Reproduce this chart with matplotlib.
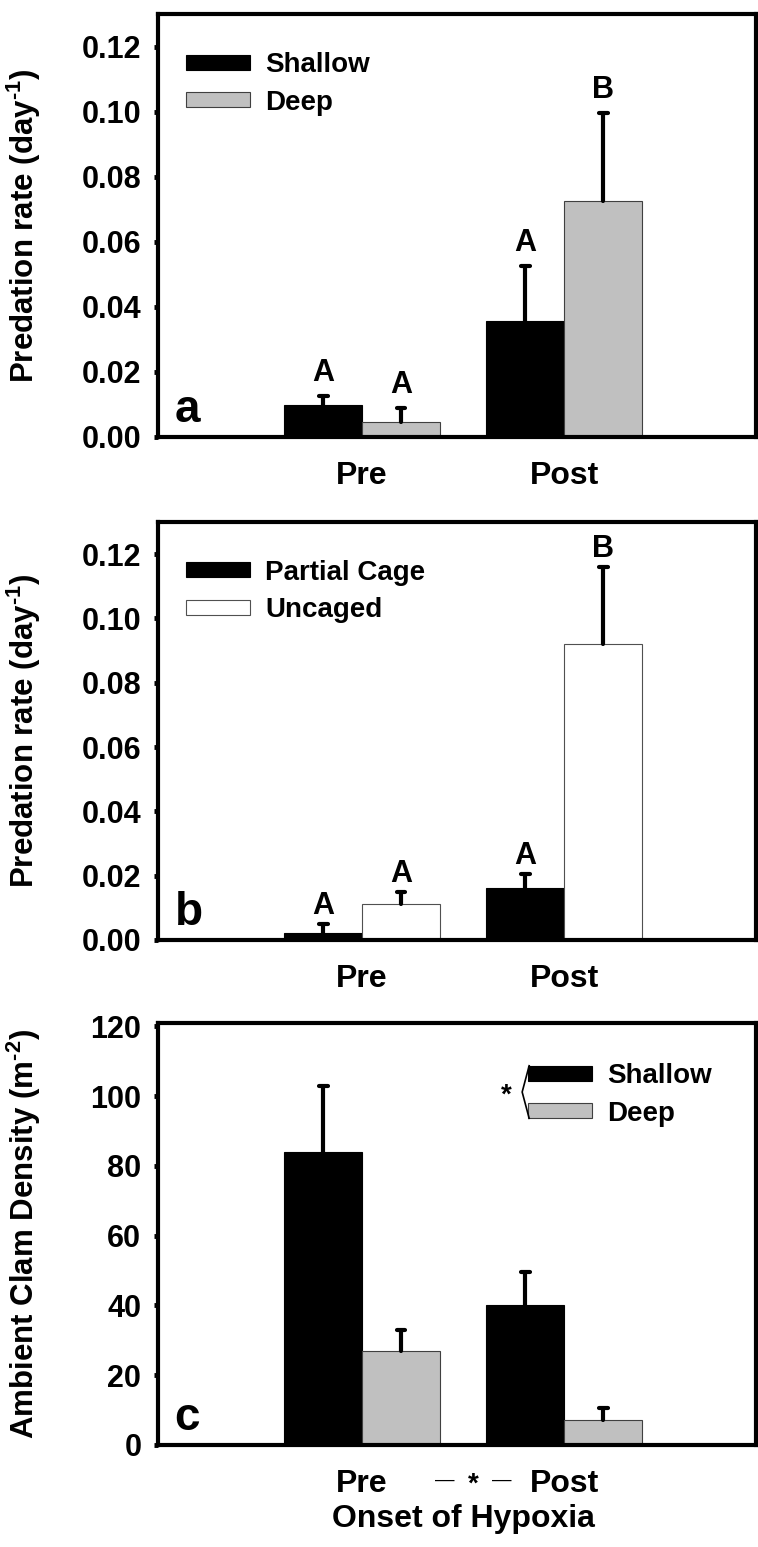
import numpy as np
import matplotlib
matplotlib.use("Agg")
import matplotlib.pyplot as plt
from matplotlib.patches import Patch
from matplotlib.lines import Line2D
from matplotlib.ticker import FormatStrFormatter

periods = ["Pre", "Post"]

# (a) predation rate, shallow vs deep
a_shallow = [0.0098, 0.0356]
a_shallow_se = [0.0028, 0.0169]
a_deep = [0.0046, 0.0724]
a_deep_se = [0.0043, 0.0271]
a_let_shallow = ["A", "A"]
a_let_deep = ["A", "B"]

# (b) predation rate, partial cage vs uncaged
b_partial = [0.0022, 0.0162]
b_partial_se = [0.0028, 0.0043]
b_uncaged = [0.0112, 0.0920]
b_uncaged_se = [0.0038, 0.0240]
b_let_partial = ["A", "A"]
b_let_uncaged = ["A", "B"]

# (c) ambient clam density
c_shallow = [84.0, 40.0]
c_shallow_se = [19.0, 9.5]
c_deep = [27.0, 7.3]
c_deep_se = [6.0, 3.2]

GREY = "#c0c0c0"
W = 0.386
CAP = 0.022
HY = "\u2010"  # plain hyphen for the superscript sign

plt.rcParams.update({
    "font.family": ["Liberation Sans", "DejaVu Sans"],
    "font.weight": "bold",
    "axes.labelweight": "bold",
    "mathtext.fontset": "custom",
    "mathtext.rm": "Liberation Sans:bold",
    "mathtext.default": "rm",
})

fig = plt.figure(figsize=(7.58, 15.47), dpi=100)
L, WID = 158 / 758, 598 / 758
axa = fig.add_axes([L, 1 - 437 / 1547, WID, 423 / 1547])
axb = fig.add_axes([L, 1 - 940 / 1547, WID, 418 / 1547])
axc = fig.add_axes([L, 1 - 1445 / 1547, WID, 422 / 1547])


def draw(ax, m1, e1, m2, e2, col2, ec2, lab1, lab2, let1, let2, ylim, yt, fmt,
         ylabel, letter, let_off):
    x = np.arange(len(periods))
    ax.bar(x - W / 2, m1, W, color="black", edgecolor="black", lw=0.8, zorder=2)
    ax.bar(x + W / 2, m2, W, color=col2, edgecolor=ec2, lw=0.8, zorder=2)
    for xs, m, e, lets in [(x - W / 2, m1, e1, let1), (x + W / 2, m2, e2, let2)]:
        top = np.add(m, e)
        ax.vlines(xs, m, top, color="black", lw=3, capstyle="round", zorder=3)
        ax.hlines(top, xs - CAP, xs + CAP, color="black", lw=3,
                  capstyle="round", zorder=3)
        if lets is not None:
            for xi, ti, t in zip(xs, top, lets):
                ax.annotate(t, (xi, ti), xytext=(0, let_off),
                            textcoords="offset points", ha="center",
                            va="bottom", fontsize=22)
    ax.set_xlim(-1.01, 1.95)
    ax.set_ylim(*ylim)
    ax.set_yticks(yt)
    ax.yaxis.set_major_formatter(FormatStrFormatter(fmt))
    ax.set_xticks(x, periods)
    ax.tick_params(axis="x", length=0, labelsize=23, pad=17)
    ax.tick_params(axis="y", length=3, width=3.5, labelsize=22, pad=9)
    for s in ax.spines.values():
        s.set_linewidth(3)
        s.set_zorder(5)
    ax.set_ylabel(ylabel, fontsize=22.5)
    ax.yaxis.set_label_coords(-0.192, 0.5)
    ax.text(0.028, 0.035, letter, transform=ax.transAxes, fontsize=33,
            va="baseline", ha="left")
    leg = ax.legend(handles=[Patch(fc="black", ec="black", lw=0.8, label=lab1),
                             Patch(fc=col2, ec=ec2, lw=0.8, label=lab2)],
                    frameon=False, fontsize=20, handlelength=2.3,
                    handleheight=0.45, handletextpad=0.55, labelspacing=0.42,
                    borderpad=0, borderaxespad=0, loc="upper left",
                    bbox_to_anchor=(0.047, 0.91))
    return leg


rate_label = "Predation rate (day$^{" + HY + "1}$)"
draw(axa, a_shallow, a_shallow_se, a_deep, a_deep_se, GREY, "#404040",
     "Shallow", "Deep", a_let_shallow, a_let_deep, (0, 0.13),
     np.arange(0, 0.121, 0.02), "%.2f", rate_label, "a", 6)
draw(axb, b_partial, b_partial_se, b_uncaged, b_uncaged_se, "white", "#505050",
     "Partial Cage", "Uncaged", b_let_partial, b_let_uncaged, (0, 0.13),
     np.arange(0, 0.121, 0.02), "%.2f", rate_label, "b", 2)
legc = draw(axc, c_shallow, c_shallow_se, c_deep, c_deep_se, GREY, "#404040",
            "Shallow", "Deep", None, None, (0, 121), np.arange(0, 121, 20),
            "%d", "Ambient Clam Density (m$^{" + HY + "2}$)", "c", 0)
legc.set_bbox_to_anchor((0.619, 0.905), transform=axc.transAxes)

axc.set_xlabel("Onset of Hypoxia", fontsize=23)
axc.xaxis.set_label_coords(0.51, -0.14)

# "- * -" significance mark between Pre and Post
xt = axc.get_xaxis_transform()
for xd, s, wt, fs, dy in [(0.41, "\u2014", "normal", 14, 0),
                          (0.55, "*", "bold", 20, -5),
                          (0.69, "\u2014", "normal", 14, 0)]:
    axc.annotate(s, (xd, -0.083), xycoords=xt, xytext=(0, dy),
                 textcoords="offset pixels", ha="center", va="center",
                 fontsize=fs, fontweight=wt)

# bracket + asterisk joining the two legend entries of panel c
fig.canvas.draw()
inv = fig.transFigure.inverted()
hs, hd = [h.get_window_extent() for h in legc.legend_handles]
pts = inv.transform([(hs.x0 + 1, hs.y1), (hs.x0 - 6, (hs.y0 + hd.y1) / 2),
                     (hd.x0 + 1, hd.y0)])
fig.add_artist(Line2D(pts[:, 0], pts[:, 1], transform=fig.transFigure,
                      color="black", lw=1.2))
ast = inv.transform([(hs.x0 - 22, (hs.y0 + hd.y1) / 2 - 4)])[0]
fig.text(ast[0], ast[1], "*", ha="center", va="center", fontsize=20)

fig.savefig("out.png", dpi=100)
